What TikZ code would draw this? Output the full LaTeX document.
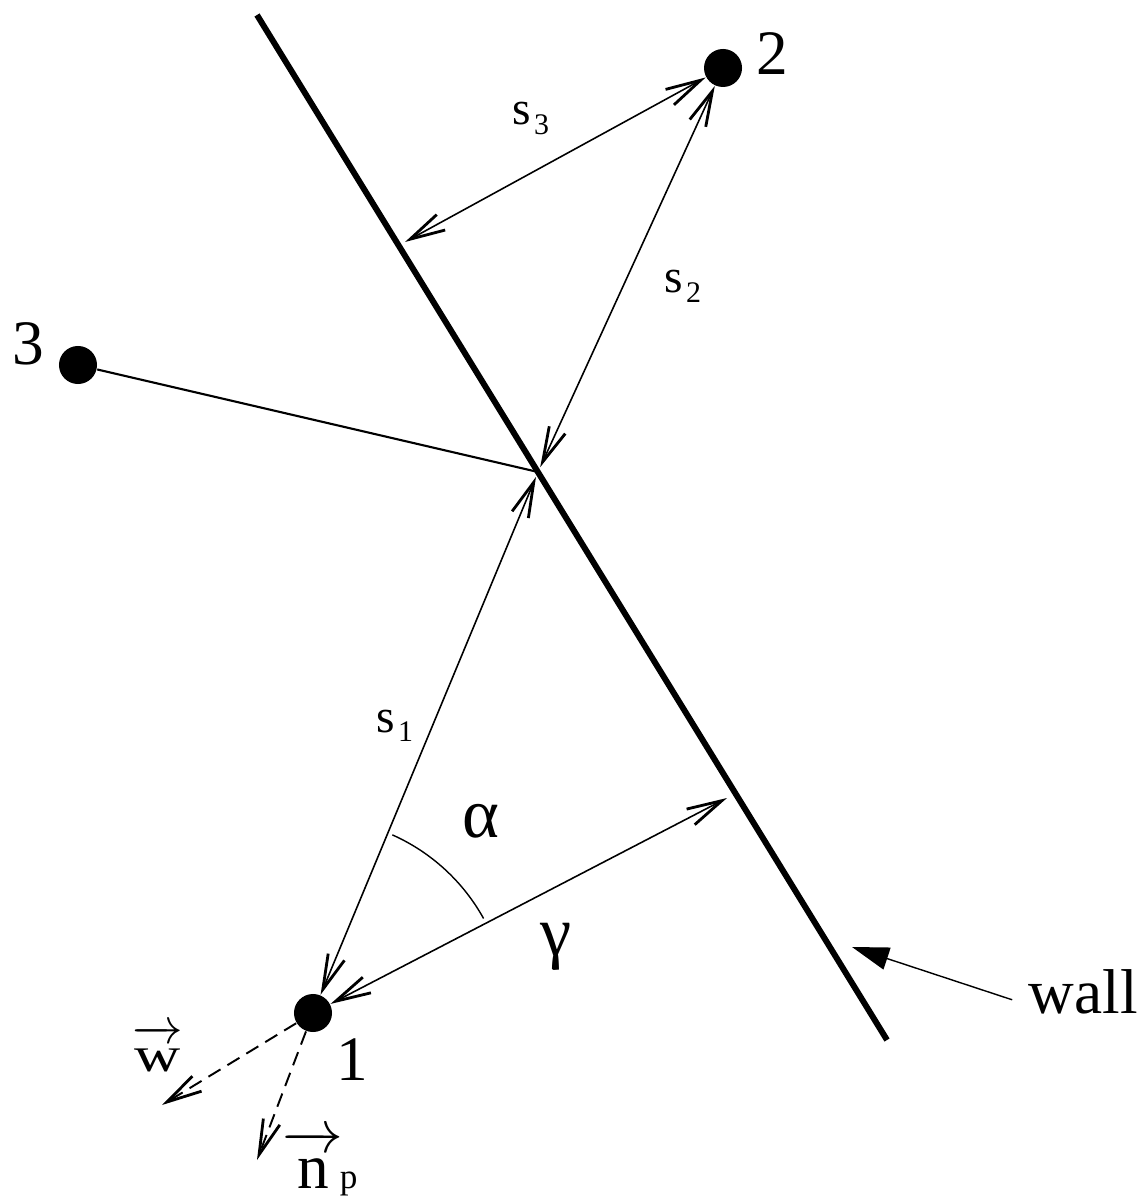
\documentclass[tikz,border=0pt]{standalone}
\usepackage{fontspec}
\setmainfont{Liberation Serif}
\usetikzlibrary{arrows.meta}

\newcommand\lowsub[1]{\kern0.8pt\raisebox{-2.8pt}{\fontsize{8.5}{10}\selectfont #1}}
\newcommand\vecletter[1]{$\overrightarrow{\hbox{\raisebox{0pt}[\dimexpr\height+2.5pt\relax]{#1}}}$}

\begin{document}
\begin{tikzpicture}[x=0.01cm, y=-0.01cm,
        openbarb/.tip={Straight Barb[length=10pt, width=5pt, line width=0.8pt]},
        dot/.style={circle, fill=black, inner sep=0pt, minimum size=0.38cm},
        dimline/.style={openbarb-openbarb, line width=0.45pt},
        vecline/.style={-openbarb, dash pattern=on 4pt off 2.3pt, line width=0.55pt},
        wallline/.style={line width=1.7pt},
        pointer/.style={-{Triangle[length=10.5pt, width=6.5pt]}, line width=0.4pt},
        lbl/.style={inner sep=0pt, anchor=base west, font=\fontsize{13.5}{15}\selectfont},
        num/.style={inner sep=0pt, anchor=base, font=\fontsize{18}{20}\selectfont},
        greek/.style={inner sep=0pt, anchor=base west, font=\fontsize{20}{22}\selectfont}
    ]
    \useasboundingbox (0,0) rectangle (1143,1201);

    % the wall
    \coordinate (wtop) at (257,15);
    \coordinate (wbot) at (887,1040);
    \draw[wallline] (wtop) -- (wbot);

    % points hit on the wall
    \coordinate (X) at (538,472);
    \coordinate (s3end) at (405,242);
    \coordinate (gend) at (727,798);

    % particles
    \node[dot] (p1) at (313,1013) {};
    \node[dot] (p2) at (723,68) {};
    \node[dot] (p3) at (78,365) {};
    \node[num] (n1) at (352,1080) {1};
    \node[num] (n2) at (772,75) {2};
    \node[num] (n3) at (28,365) {3};

    % distances
    \draw[dimline, shorten >=1.5pt] (p1) -- (X);
    \draw[dimline, shorten <=1.5pt] (X) -- (p2);
    \draw[dimline] (s3end) -- (p2);
    \draw[dimline] (p1) -- (gend);
    \draw[line width=0.6pt] (p3) -- (X);

    % angle between s1 and gamma
    \draw[line width=0.4pt] (p1.center) ++(-66:195) arc[start angle=-66, end angle=-29, radius=195];

    % normal vectors
    \coordinate (wend) at (162,1105);
    \coordinate (nend) at (257,1160);
    \draw[vecline] (p1) -- (wend);
    \draw[vecline] (p1) -- (nend);

    % labels
    \node[lbl] (s1) at (376,732) {s\lowsub{1}};
    \node[lbl] (s2) at (664,293) {s\lowsub{2}};
    \node[lbl] (s3) at (512,125) {s\lowsub{3}};
    \node[greek] (alpha) at (462,837) {α};
    \node[greek] (gamma) at (540,955) {γ};
    \node[lbl, font=\fontsize{14}{15}\selectfont] (wvec) at (132,1071) {\vecletter{\scalebox{1.3}[1]{w}}};
    \node[lbl, font=\fontsize{18}{20}\selectfont] (npvec) at (282,1188) {\vecletter{n}\kern-1pt{\fontsize{10}{11}\selectfont p}};

    % wall label
    \node[inner sep=0pt, anchor=base west, font=\fontsize{18}{20}\selectfont] (wall) at (1028,1013) {wall};
    \coordinate (walltip) at (852,947);
    \draw[pointer] ([xshift=-4.5pt, yshift=-2.4pt]wall.west) -- (walltip);
\end{tikzpicture}
\end{document}
